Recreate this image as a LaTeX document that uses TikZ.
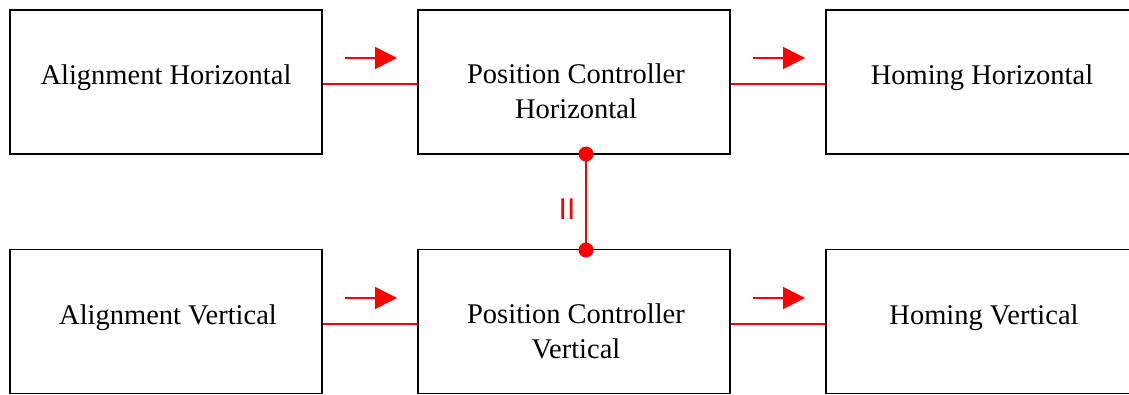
\documentclass[tikz,border=0pt]{standalone}
\usepackage{fontspec}
\setmainfont{Liberation Serif}
\newfontfamily\labelfont{Liberation Sans}
\usetikzlibrary{arrows.meta}
\begin{document}
\begin{tikzpicture}[x=1pt,y=-1pt,
  blk/.style={draw=black,line width=1.6pt,minimum width=312pt,minimum height=144pt,inner sep=0pt},
  txt/.style={inner sep=0pt,font=\fontsize{28.5}{35}\selectfont,align=center},
  link/.style={draw=red,line width=1.5pt},
  flow/.style={draw=red,line width=1.5pt,-{Triangle[length=22pt,width=22pt]}},
  dot/.style={circle,fill=red,inner sep=0pt,minimum size=15pt}]
\useasboundingbox (0,0) rectangle (1129,394);
\begin{scope}
\clip (0,0) rectangle (1129,394);
\node[blk] (ah) at (166,82) {};
\node[blk] (pch) at (574,82) {};
\node[blk] (hh) at (982,82) {};
\node[blk] (av) at (166,321.5) {};
\node[blk] (pcv) at (574,321.5) {};
\node[blk] (hv) at (982,321.5) {};
\end{scope}
\node[txt] (tah) at (166,78) {Alignment Horizontal};
\node[txt] (tpch) at (576,91.5) {Position Controller\\Horizontal};
\node[txt] (thh) at (982,78) {Homing Horizontal};
\node[txt] (tav) at (168,318) {Alignment Vertical};
\node[txt] (tpcv) at (576,331) {Position Controller\\Vertical};
\node[txt] (thv) at (984,318) {Homing Vertical};
\draw[link] (ah.east |- 0,84) -- (pch.west |- 0,84);
\draw[link] (pch.east |- 0,84) -- (hh.west |- 0,84);
\draw[link] (av.east |- 0,324) -- (pcv.west |- 0,324);
\draw[link] (pcv.east |- 0,324) -- (hv.west |- 0,324);
\coordinate (a1s) at (345,58); \coordinate (a1e) at (397,58);
\coordinate (a2s) at (753,58); \coordinate (a2e) at (805,58);
\coordinate (a3s) at (345,298); \coordinate (a3e) at (397,298);
\coordinate (a4s) at (753,298); \coordinate (a4e) at (805,298);
\draw[flow] (a1s) -- (a1e);
\draw[flow] (a2s) -- (a2e);
\draw[flow] (a3s) -- (a3e);
\draw[flow] (a4s) -- (a4e);
\node[dot] (d1) at (586,154) {};
\node[dot] (d2) at (586,250) {};
\draw[link] (d1.center) -- (d2.center);
\node[text=red,font=\labelfont\fontsize{30}{30}\selectfont] (eq) at (567,209) {II};
\end{tikzpicture}
\end{document}
